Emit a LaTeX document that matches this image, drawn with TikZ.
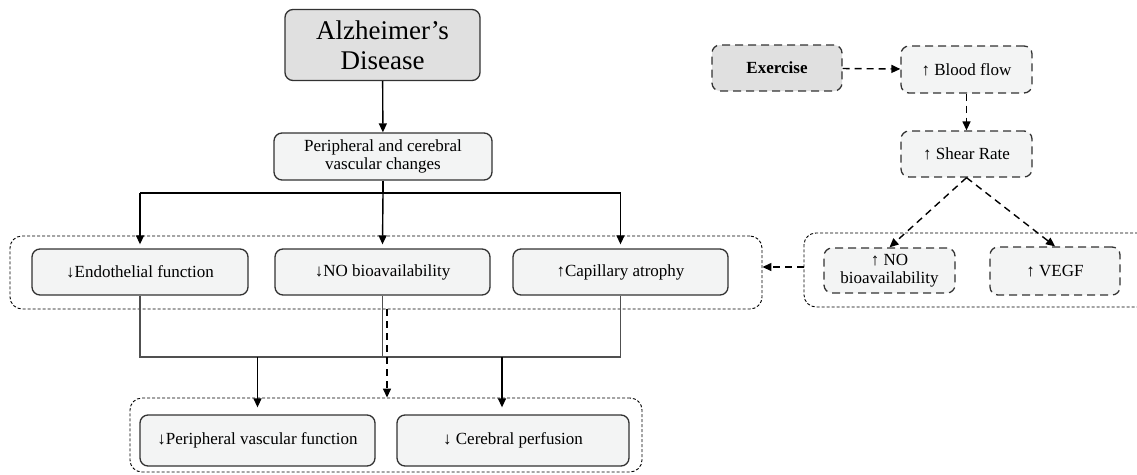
\documentclass[tikz,border=0pt]{standalone}
\usepackage{fontspec}
\setmainfont{Liberation Serif}
\usetikzlibrary{arrows.meta, positioning}
\definecolor{darkfill}{RGB}{224,224,224}
\definecolor{lightfill}{RGB}{243,244,244}
\definecolor{edgecolor}{RGB}{50,50,50}
\definecolor{linecolor}{RGB}{80,80,80}

\begin{document}
\begin{tikzpicture}[
    x=1pt, y=-1pt,
    box/.style={draw=edgecolor, line width=1.3pt, rounded corners=8pt, fill=lightfill,
        align=center, inner sep=0pt, font=\fontsize{17}{18}\selectfont},
    dbox/.style={box, dash pattern=on 8pt off 5pt},
    group/.style={draw=black, line width=0.9pt, rounded corners=12pt, dash pattern=on 3pt off 2pt, inner sep=0pt},
    conn/.style={line width=1.4pt, -{Triangle[length=9pt, width=8pt]}},
    dconn/.style={conn, dash pattern=on 7pt off 5pt}
]
    \useasboundingbox (0,0) rectangle (1137,474);

    % Groups
    \node[group, minimum width=752pt, minimum height=73pt] (grpL) at (386,272.5) {};
    \node[group, minimum width=512pt, minimum height=74pt] (grpB) at (386,435) {};
    \node[group, minimum width=346pt, minimum height=74pt] (grpR) at (977,270) {};

    % Left column
    \node[box, fill=darkfill, minimum width=195pt, minimum height=71pt, font=\fontsize{27}{30}\selectfont] (alz) at (382.5,45) {Alzheimer’s\\Disease};
    \node[box, minimum width=218pt, minimum height=47pt] (vasc) at (383,156.5) {Peripheral and cerebral\\vascular changes};

    \node[box, minimum width=216pt, minimum height=46pt] (endo) at (140,272) {↓Endothelial function};
    \node[box, minimum width=215pt, minimum height=46pt] (noL) at (382.5,272) {↓NO bioavailability};
    \node[box, minimum width=215pt, minimum height=46pt] (cap) at (620.5,272) {↑Capillary atrophy};

    \node[box, minimum width=235pt, minimum height=51pt] (pvf) at (257.5,440.5) {↓Peripheral vascular function};
    \node[box, minimum width=232pt, minimum height=51pt] (cer) at (513,440.5) {↓ Cerebral perfusion};

    % Exercise column
    \node[dbox, fill=darkfill, minimum width=130pt, minimum height=46pt, font=\fontsize{17}{18}\selectfont\bfseries] (exer) at (777,68) {Exercise};
    \node[dbox, minimum width=131pt, minimum height=47pt] (blood) at (966.5,69.5) {↑ Blood flow};
    \node[dbox, minimum width=131pt, minimum height=46pt] (shear) at (966.5,154) {↑ Shear Rate};
    \node[dbox, minimum width=131pt, minimum height=45pt] (noR) at (889.5,270.5) {↑ NO\\bioavailability};
    \node[dbox, minimum width=130pt, minimum height=48pt] (vegf) at (1055,271) {↑ VEGF};

    % Connectors
    \coordinate (jT) at (383,193);
    \coordinate (jB) at (140,357);
    \coordinate (jR) at (502,357);
    \draw[conn] (alz) -- (vasc);
    \draw[line width=1.4pt] (vasc.south) -- (jT);
    \draw[line width=1.4pt] (jT -| endo) -- (jT -| cap);
    \draw[conn] (jT -| endo) -- ([yshift=4pt]endo.north);
    \draw[conn] (jT) -- ([yshift=4pt]noL.north);
    \draw[conn] (jT -| cap) -- ([yshift=4pt]cap.north);

    \draw[linecolor, line width=1.1pt] (endo.south) -- (jB) -- (jB -| cap) -- (cap.south);
    \draw[linecolor, line width=1.1pt] (noL.south) -- (jB -| noL);
    \draw[conn] (jB -| pvf) -- ([yshift=7pt]pvf.north);
    \draw[conn] (jR) -- ([yshift=7pt]jR |- cer.north);
    \draw[dconn] ([xshift=4.5pt]grpL.south -| noL) -- ([xshift=4.5pt]grpB.north -| noL);

    \draw[dconn] (exer) -- (blood);
    \draw[dconn] (blood) -- (shear);
    \draw[dconn] (shear.south) -- (noR.north);
    \draw[dconn] (shear.south) -- (vegf.north);
    \draw[dconn] ([yshift=3pt]grpR.west) -- ([yshift=3pt]grpL.east |- grpR.west);
\end{tikzpicture}
\end{document}
